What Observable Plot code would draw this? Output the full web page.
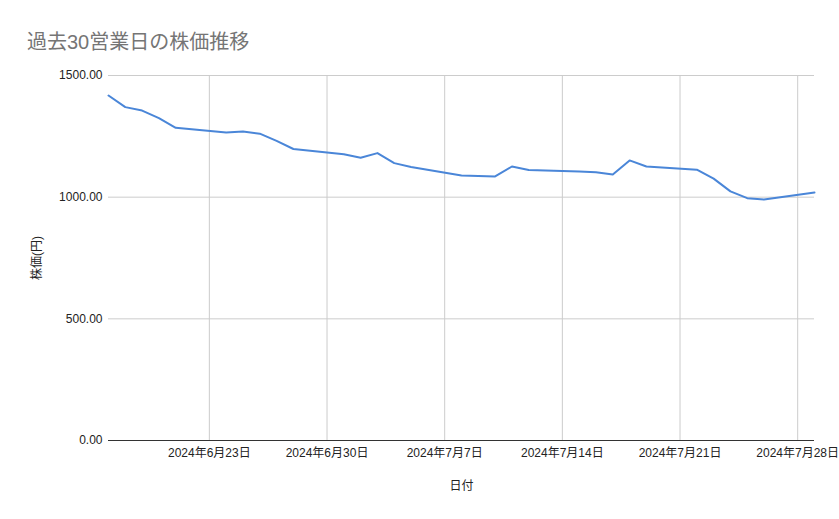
<!DOCTYPE html>
<html>
<head>
<meta charset="utf-8">
<script src="https://cdn.jsdelivr.net/npm/d3@7"></script>
<script src="https://cdn.jsdelivr.net/npm/@observablehq/plot@0.6"></script>
<style>
  body { margin: 0; background: #fff; font-family: "Liberation Sans", "Noto Sans CJK JP", sans-serif; }
  #wrap { position: relative; width: 839px; height: 519px; }
  #title { position: absolute; left: 27px; top: 26px; font-size: 20px; color: #757575; font-family: "Liberation Sans", "Noto Sans CJK JP", sans-serif; }
</style>
</head>
<body>
<div id="wrap"><div id="title">過去30営業日の株価推移</div></div>
<script>
const dates = ["2024-06-17","2024-06-18","2024-06-19","2024-06-20","2024-06-21",
  "2024-06-24","2024-06-25","2024-06-26","2024-06-27","2024-06-28",
  "2024-07-01","2024-07-02","2024-07-03","2024-07-04","2024-07-05",
  "2024-07-08","2024-07-09","2024-07-10","2024-07-11","2024-07-12",
  "2024-07-15","2024-07-16","2024-07-17","2024-07-18","2024-07-19",
  "2024-07-22","2024-07-23","2024-07-24","2024-07-25","2024-07-26",
  "2024-07-29"];
const prices = [1418,1370,1356,1325,1285,
  1266,1270,1261,1231,1198,
  1176,1162,1181,1140,1124,
  1089,1087,1085,1126,1112,
  1105,1102,1093,1151,1126,
  1113,1076,1024,996,990,
  1019];
const xTickDates = ["2024-06-23","2024-06-30","2024-07-07","2024-07-14","2024-07-21","2024-07-28"];
const yTicks = [0, 500, 1000, 1500];

const data = dates.map((d, i) => ({date: new Date(d + "T00:00:00Z"), price: prices[i]}));
const xTicks = xTickDates.map(d => new Date(d + "T00:00:00Z"));
const fmtDate = d => `${d.getUTCFullYear()}年${d.getUTCMonth() + 1}月${d.getUTCDate()}日`;

const chart = Plot.plot({
  width: 839,
  height: 519,
  marginTop: 75,
  marginBottom: 79,
  marginLeft: 108,
  marginRight: 25,
  style: {fontFamily: '"Liberation Sans", "Noto Sans CJK JP", sans-serif', fontSize: "12px", color: "#222", background: "transparent"},
  x: {type: "utc", domain: [new Date("2024-06-17T00:00:00Z"), new Date("2024-07-29T00:00:00Z")]},
  y: {domain: [0, 1500]},
  marks: [
    Plot.gridY(yTicks, {stroke: "#cccccc", strokeOpacity: 1}),
    Plot.gridX(xTicks, {stroke: "#cccccc", strokeOpacity: 1}),
    Plot.ruleY([0], {stroke: "#333"}),
    Plot.axisY(yTicks, {tickFormat: d3.format(".2f"), tickSize: 0, tickPadding: 6, label: "株価(円)", labelAnchor: "center", labelArrow: "none", labelOffset: 76}),
    Plot.axisX(xTicks, {tickFormat: fmtDate, tickSize: 0, tickPadding: 8, label: "日付", labelAnchor: "center", labelArrow: "none", labelOffset: 49}),
    Plot.lineY(data, {x: "date", y: "price", stroke: "#4a86d8", strokeWidth: 2})
  ]
});
document.getElementById("wrap").prepend(chart);
</script>
</body>
</html>
